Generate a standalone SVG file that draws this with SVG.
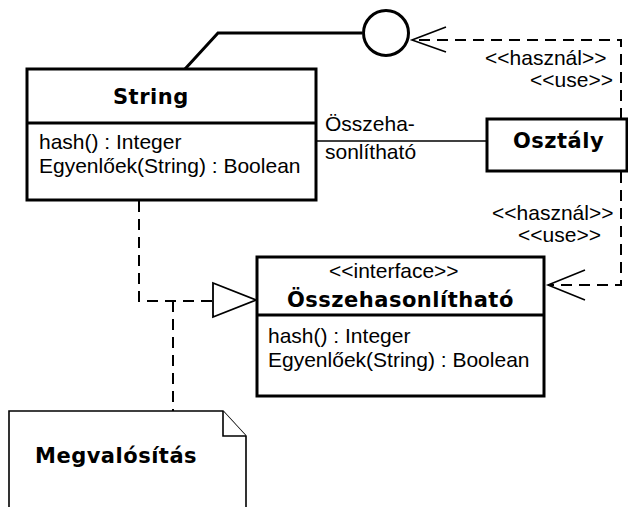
<svg xmlns="http://www.w3.org/2000/svg" width="628" height="507" viewBox="0 0 628 507">
  <style>
    .box { fill: #ffffff; stroke: #000000; stroke-width: 3; }
    .sep { stroke: #000000; stroke-width: 3; fill: none; }
    .thin { stroke: #000000; stroke-width: 1.6; fill: none; }
    .thick { stroke: #000000; stroke-width: 3; fill: none; }
    .dash { stroke: #000000; stroke-width: 2; fill: none; stroke-dasharray: 11 7; }
    .head { stroke: #000000; stroke-width: 1.6; fill: none; }
    .tri { stroke: #000000; stroke-width: 1.8; fill: #ffffff; }
    .note { fill: #ffffff; stroke: #000000; stroke-width: 1.6; }
    text { font-family: "Liberation Sans", Arial, sans-serif; font-size: 21px; fill: #000000; }
    .title { font-family: "DejaVu Sans", "Liberation Sans", sans-serif; font-weight: bold; letter-spacing: 0.5px; }
  </style>

  <rect width="628" height="507" fill="#ffffff"/>

  <!-- connectors -->
  <g id="connectors">
    <!-- lollipop: provided interface of String -->
    <polyline class="thick" points="185,69 218,33 362,33"/>
    <circle class="thick" cx="386" cy="33" r="22.5" fill="#ffffff"/>

    <!-- Osztály uses the interface (lollipop) -->
    <polyline class="dash" points="621,119 621,40 413,40"/>
    <polyline class="head" points="446,27 412,40 446,52"/>

    <!-- Osztály uses Összehasonlítható -->
    <polyline class="dash" points="621,172 621,285 549,285"/>
    <polyline class="head" points="585,270 548,285 585,300"/>

    <!-- association String — Osztály -->
    <line class="thin" x1="316" y1="141" x2="487" y2="141"/>

    <!-- realization String -> Összehasonlítható -->
    <polyline class="dash" points="139,201 139,301 213,301"/>
    <polygon class="tri" points="213,283 213,317 256,300"/>
    <line class="dash" x1="173" y1="301" x2="173" y2="411"/>
  </g>

  <!-- String class -->
  <g id="string">
    <rect class="box" x="27" y="69" width="289" height="131"/>
    <line class="sep" x1="27" y1="123" x2="316" y2="123"/>
    <text class="title" x="113" y="104">String</text>
    <text x="39" y="149">hash() : Integer</text>
    <text x="39" y="173">Egyenlőek(String) : Boolean</text>
  </g>

  <!-- Osztály class -->
  <g id="osztaly">
    <rect class="box" x="487" y="119" width="140" height="52"/>
    <text class="title" x="513" y="148">Osztály</text>
  </g>

  <!-- Összehasonlítható interface -->
  <g id="osszehasonlithato">
    <rect class="box" x="257" y="257" width="287" height="139"/>
    <line class="sep" x1="257" y1="315" x2="544" y2="315"/>
    <text x="329" y="278">&lt;&lt;interface&gt;&gt;</text>
    <text class="title" x="287" y="307">Összehasonlítható</text>
    <text x="268" y="343">hash() : Integer</text>
    <text x="268" y="367">Egyenlőek(String) : Boolean</text>
  </g>

  <!-- association end label -->
  <g id="assoc-label">
    <text x="325" y="131">Összeha-</text>
    <text x="325" y="159">sonlítható</text>
  </g>

  <!-- dependency stereotypes -->
  <g id="use-label-1">
    <text x="485" y="65">&lt;&lt;használ&gt;&gt;</text>
    <text x="530" y="87">&lt;&lt;use&gt;&gt;</text>
  </g>
  <g id="use-label-2">
    <text x="492" y="220">&lt;&lt;használ&gt;&gt;</text>
    <text x="518" y="242">&lt;&lt;use&gt;&gt;</text>
  </g>

  <!-- note -->
  <g id="megvalositas">
    <path class="note" d="M9,509 L9,411 L223,411 L246,436 L246,509"/>
    <polyline class="note" points="223,411 223,436 246,436" fill="none"/>
    <text class="title" x="35" y="463">Megvalósítás</text>
  </g>
</svg>
